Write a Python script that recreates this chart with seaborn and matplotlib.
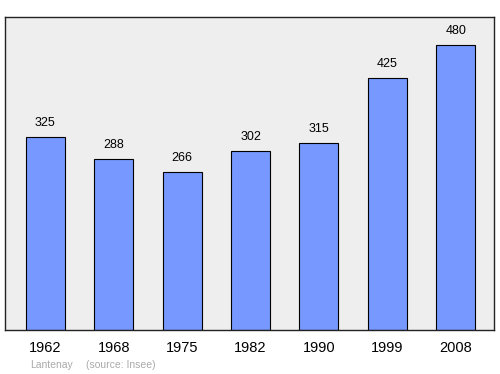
import matplotlib
matplotlib.use("Agg")
import matplotlib.pyplot as plt
import seaborn as sns
import pandas as pd

years = ["1962", "1968", "1975", "1982", "1990", "1999", "2008"]
population = [325, 288, 266, 302, 315, 425, 480]

sns.set_theme(style="white")
plt.rcParams['font.family'] = ['Liberation Sans', 'DejaVu Sans']

df = pd.DataFrame({"year": years, "pop": population})

fig = plt.figure(figsize=(5.0, 3.74), dpi=100)
ax = fig.add_axes([0.01, 1 - 330/374, 0.978, 313/374])
ax.set_facecolor("#eeeeee")
sns.barplot(data=df, x="year", y="pop", ax=ax, color="#7799ff", saturation=1,
            width=0.57, edgecolor="black", linewidth=0.8)
for i, v in enumerate(population):
    ax.text(i, v + 13, str(v), ha="center", va="bottom", fontsize=9, color="black")
ax.set_xlim(-0.59, 6.56)
ax.set_ylim(0, 527)
ax.set_yticks([])
ax.set_xlabel("")
ax.set_ylabel("")
ax.tick_params(axis="x", length=0, labelsize=10.5, pad=8, colors="black")
for s in ax.spines.values():
    s.set_color("#222222")
    s.set_linewidth(1.0)
fig.text(30/500, 1 - 365.5/374, "Lantenay", fontsize=7.5, color="#aaaaaa", va="center")
fig.text(86/500, 1 - 365.5/374, "(source: Insee)", fontsize=7.5, color="#aaaaaa", va="center")
fig.savefig("out.png", dpi=100)
